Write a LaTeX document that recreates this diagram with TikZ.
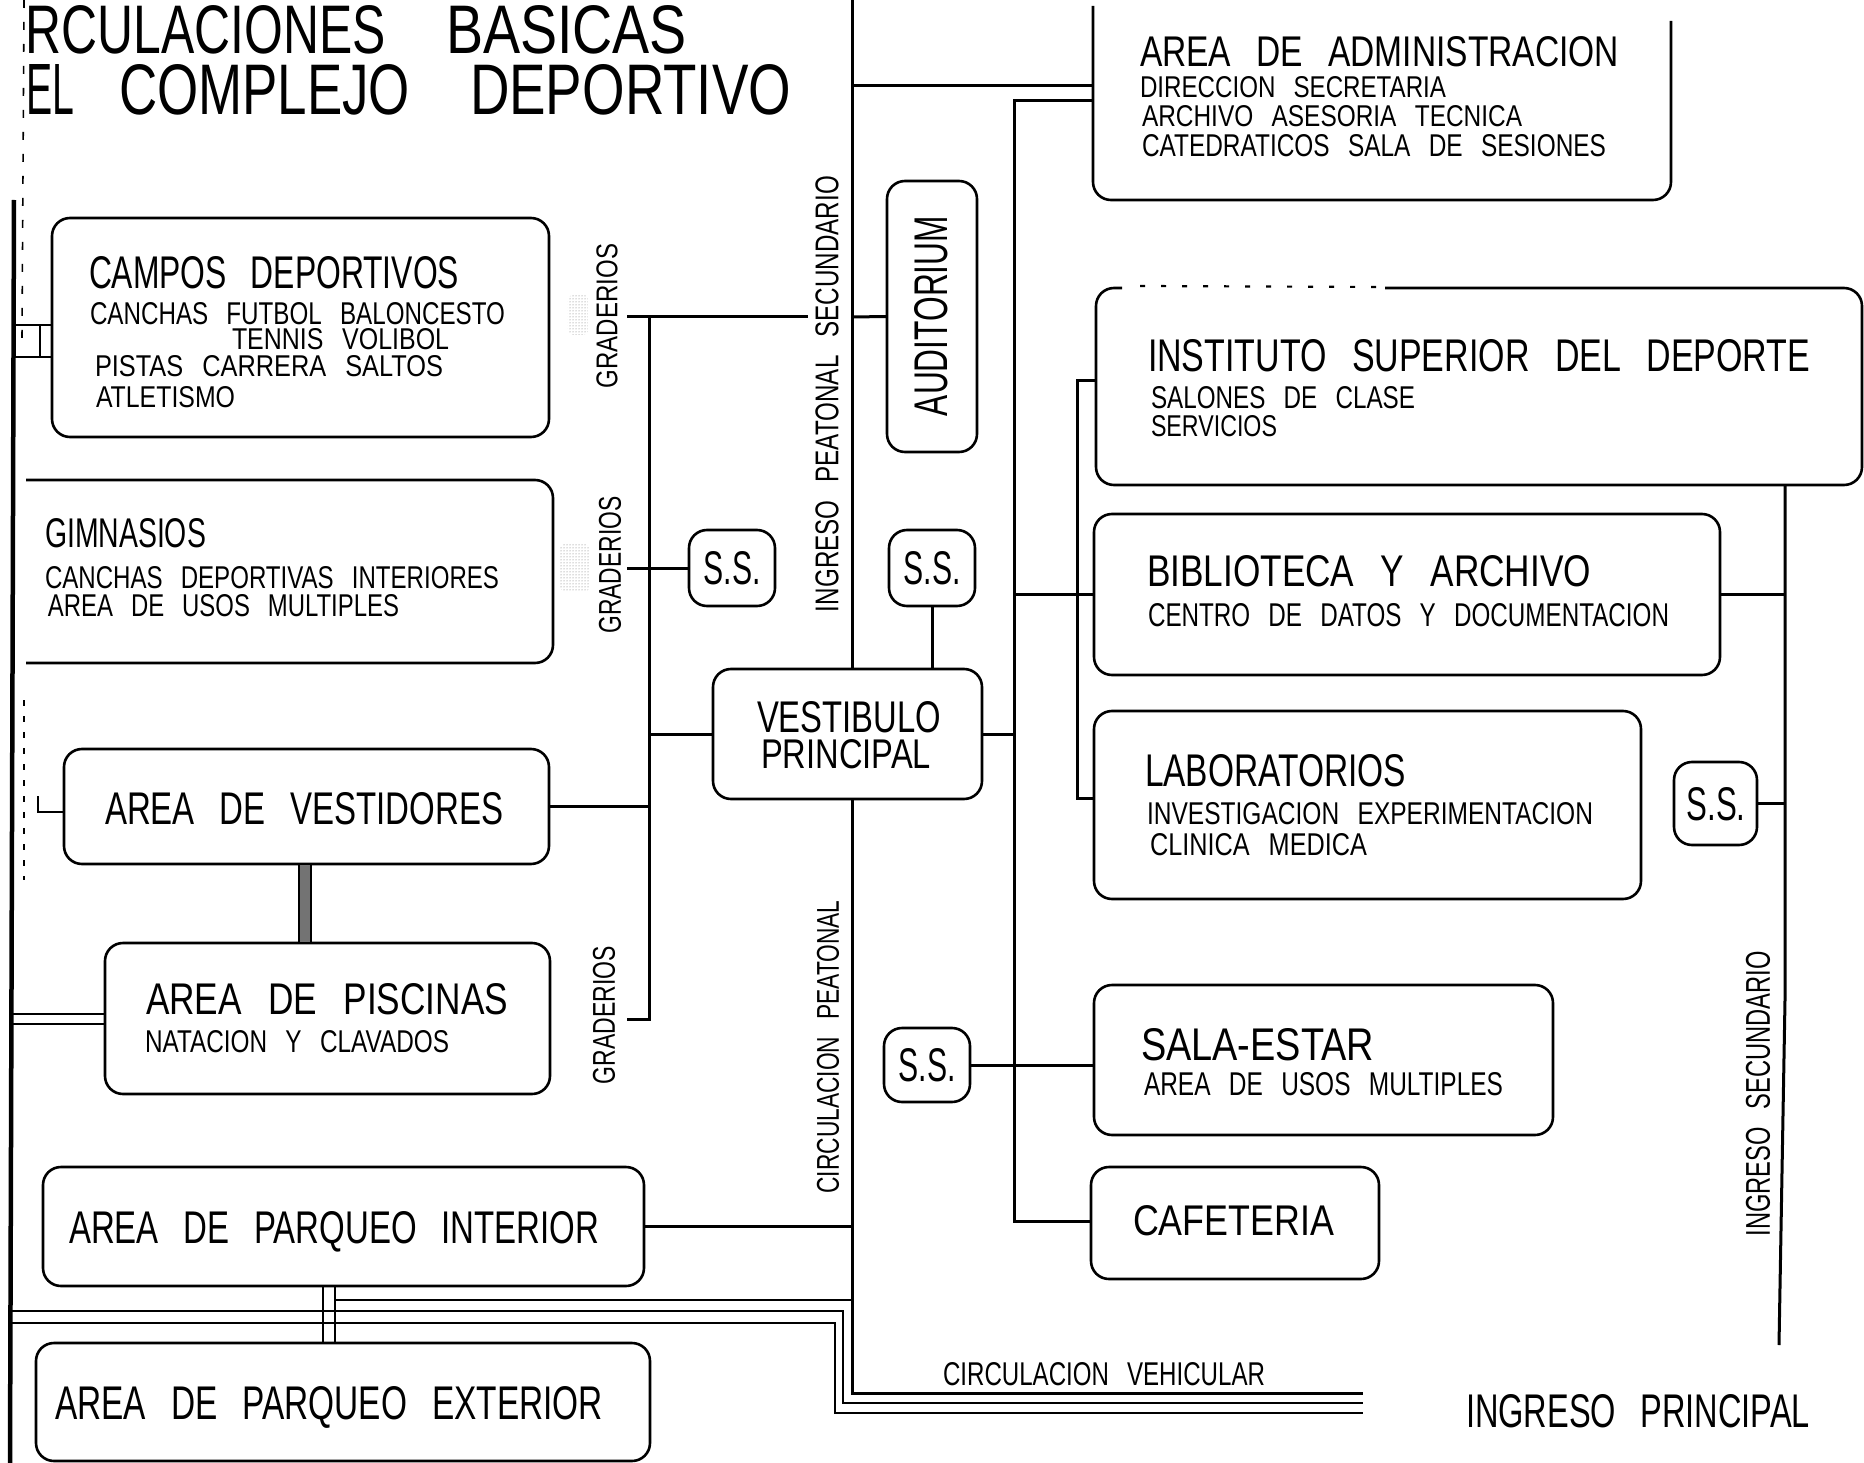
\documentclass[tikz,border=0pt]{standalone}
\usepackage{graphicx}
\usepackage{fontspec}
\setmainfont{Liberation Sans}
\usetikzlibrary{patterns,calc}
\newcommand{\ws}{\hspace{0.75em}}
\newcommand{\Htext}[6]{\node[tx,anchor=north west] (#1) at (#2,#3) {\resizebox{#4pt}{#5pt}{#6}};}
\newcommand{\Vtext}[6]{\node[tx,rotate=90] (#1) at (#2,#3) {\resizebox{#4pt}{#5pt}{#6}};}
\newcommand{\Ctext}[6]{\node[tx] (#1) at (#2,#3) {\resizebox{#4pt}{#5pt}{#6}};}
\newcommand{\boxn}[6][bx]{\node[#1, minimum width={(#5)-(#3)}, minimum height={(#6)-(#4)}] (#2) at ({((#3)+(#5))/2},{((#4)+(#6))/2}) {};}
\tikzset{
  bx/.style={draw, line width=2.6pt, rounded corners=18pt, inner sep=0pt, outer sep=0pt},
  bxo/.style={inner sep=0pt, outer sep=0pt},
  bxl/.style={line width=2.6pt, rounded corners=18pt},
  tx/.style={inner sep=0pt, outer sep=0pt},
  ln/.style={line width=3pt},
  ln2/.style={line width=2.8pt},
}
\begin{document}
\begin{tikzpicture}[x=1pt,y=-1pt]
\fill[white] (0,0) rectangle (1864,1463);
\useasboundingbox (0,0) rectangle (1864,1463);

% ---------- boxes ----------
\boxn{camp}{52}{218}{549}{437}
\boxn[bxo]{gim}{26}{480}{553}{663}
\draw[bxl] (gim.north west) -- (gim.north east) -- (gim.south east) -- (gim.south west);
\boxn{vestr}{64}{749}{549}{864}
\boxn{pisc}{105}{943}{550}{1094}
\boxn{parqint}{43}{1167}{644}{1286}
\boxn{parqext}{36}{1343}{650}{1461}
\boxn{vest}{713}{669}{982}{799}
\boxn{ss1}{689}{530}{775}{606}
\boxn{ss2}{889}{530}{975}{606}
\boxn{aud}{887}{181}{977}{452}
\boxn{ss3}{884}{1028}{970}{1102}
\boxn[bxo]{adm}{1093}{6}{1671}{200}
\draw[bxl] (adm.north west) -- (adm.south west) -- (adm.south east) -- ($(adm.north east)+(0,15)$);
\boxn[bxo]{inst}{1096}{288}{1862}{485}
\draw[bxl] (1385,288) -- (inst.north east) -- (inst.south east) -- (inst.south west) -- (inst.north west) -- (1122,288);
\draw[line width=2.2pt, dash pattern=on 5pt off 16pt] (1140,286) -- (1385,287);
\boxn{bib}{1094}{514}{1720}{675}
\boxn{lab}{1094}{711}{1641}{899}
\boxn{ss4}{1674}{762}{1757}{845}
\boxn{sala}{1094}{985}{1553}{1135}
\boxn{caf}{1091}{1167}{1379}{1279}

% ---------- texts ----------
\Htext{t1}{26}{5}{360}{48}{RCULACIONES}
\Htext{t2}{446}{5}{241}{48}{BASICAS}
\Htext{t3}{26}{64}{48}{50}{EL}
\Htext{t4}{119}{64}{291}{50}{COMPLEJO}
\Htext{t5}{470}{64}{321}{50}{DEPORTIVO}

\Htext{c1}{89}{256}{370}{32}{CAMPOS\ws DEPORTIVOS}
\Htext{c2}{90}{302}{415}{22}{CANCHAS\ws FUTBOL\ws BALONCESTO}
\Htext{c3}{232}{329}{217}{21}{TENNIS\ws VOLIBOL}
\Htext{c4}{95}{356}{348}{21}{PISTAS\ws CARRERA\ws SALTOS}
\Htext{c5}{96}{386}{139}{21}{ATLETISMO}

\Htext{g1}{45}{518}{161}{29}{GIMNASIOS}
\Htext{g2}{45}{566}{454}{22}{CANCHAS\ws DEPORTIVAS\ws INTERIORES}
\Htext{g3}{48}{594}{351}{22}{AREA\ws DE\ws USOS\ws MULTIPLES}

\Htext{v1}{105}{792}{398}{32}{AREA\ws DE\ws VESTIDORES}
\Htext{p1}{146}{983}{362}{31}{AREA\ws DE\ws PISCINAS}
\Htext{p2}{145}{1030}{304}{22}{NATACION\ws Y\ws CLAVADOS}
\Htext{q1}{69}{1211}{530}{32}{AREA\ws DE\ws PARQUEO\ws INTERIOR}
\Htext{q2}{55}{1386}{548}{33}{AREA\ws DE\ws PARQUEO\ws EXTERIOR}

\Htext{vb1}{757}{701}{184}{31}{VESTIBULO}
\Htext{vb2}{761}{739}{170}{29}{PRINCIPAL}

\Ctext{ss1t}{732}{568}{57}{33}{S.S.}
\Ctext{ss2t}{932}{568}{57}{33}{S.S.}
\Ctext{ss3t}{927}{1065}{57}{33}{S.S.}
\Ctext{ss4t}{1716}{804}{59}{33}{S.S.}

\Htext{a1}{1140}{37}{479}{30}{AREA\ws DE\ws ADMINISTRACION}
\Htext{a2}{1140}{77}{306}{21}{DIRECCION\ws SECRETARIA}
\Htext{a3}{1142}{106}{380}{21}{ARCHIVO\ws ASESORIA\ws TECNICA}
\Htext{a4}{1142}{135}{464}{22}{CATEDRATICOS\ws SALA\ws DE\ws SESIONES}

\Htext{i1}{1148}{339}{662}{32}{INSTITUTO\ws SUPERIOR\ws DEL\ws DEPORTE}
\Htext{i2}{1151}{386}{264}{22}{SALONES\ws DE\ws CLASE}
\Htext{i3}{1151}{415}{126}{21}{SERVICIOS}

\Htext{b1}{1147}{555}{444}{31}{BIBLIOTECA\ws Y\ws ARCHIVO}
\Htext{b2}{1148}{603}{521}{23}{CENTRO\ws DE\ws DATOS\ws Y\ws DOCUMENTACION}

\Htext{l1}{1145}{754}{261}{32}{LABORATORIOS}
\Htext{l2}{1147}{802}{446}{22}{INVESTIGACION\ws EXPERIMENTACION}
\Htext{l3}{1150}{833}{217}{22}{CLINICA\ws MEDICA}

\Htext{s1}{1141}{1028}{233}{32}{SALA-ESTAR}
\Htext{s2}{1144}{1072}{359}{23}{AREA\ws DE\ws USOS\ws MULTIPLES}

\Htext{f1}{1133}{1205}{201}{30}{CAFETERIA}

\Htext{cv}{943}{1362}{322}{23}{CIRCULACION\ws VEHICULAR}
\Htext{ip}{1466}{1394}{344}{33}{INGRESO\ws PRINCIPAL}

\Vtext{au}{931}{316}{200}{33}{AUDITORIUM}
\Vtext{gr1}{607}{316}{144}{21}{GRADERIOS}
\Vtext{gr2}{610}{565}{137}{22}{GRADERIOS}
\Vtext{gr3}{604}{1015}{138}{22}{GRADERIOS}
\Vtext{ips}{827}{394}{436}{23}{INGRESO\ws PEATONAL\ws SECUNDARIO}
\Vtext{cp}{828}{1047}{293}{22}{CIRCULACION\ws PEATONAL}
\Vtext{is}{1758}{1094}{285}{24}{INGRESO\ws SECUNDARIO}

% ---------- coordinates ----------
\coordinate (Ptop) at (852,0);
\coordinate (Pturn) at (852,1393);
\coordinate (Pend) at (1363,1393);
\coordinate (Padm) at (852,86);
\coordinate (Paud) at (852,317);
\coordinate (R1top) at (1014,101);
\coordinate (R1bot) at (1014,1221);
\coordinate (R2top) at (1077,380);
\coordinate (R2bot) at (1077,798);
\coordinate (Ltop) at (649,317);
\coordinate (Lbot) at (649,1019);
\coordinate (G1) at (627,317);
\coordinate (G1e) at (808,317);
\coordinate (G2) at (627,568);
\coordinate (G3) at (627,1019);
\coordinate (Rtop) at (1785,485);
\coordinate (Rmid) at (1785,1000);
\coordinate (Rbot) at (1779,1345);
\coordinate (D1) at (323,1300);
\coordinate (D2) at (335,1300);

% ---------- connectors ----------
\draw[ln] (Ptop) -- (Ptop |- vest.north);
\draw[ln] (Ptop |- vest.south) -- (Pturn) -- (Pend);
\draw[ln] (Padm) -- (Padm -| adm.west);
\draw[ln] (Paud) -- (aud.west);
\draw[ln] (R1top -| adm.west) -- (R1top) -- (R1bot) -- (R1bot -| caf.west);
\draw[ln] (R1top |- bib.west) -- (bib.west);
\draw[ln] (vest.east) -- (vest.east -| R1top);
\draw[ln] (ss3.east) -- (ss3.east -| sala.west);
\draw[ln] (ss2.south) -- (ss2.south |- vest.north);
\draw[ln] (R2top -| inst.west) -- (R2top) -- (R2bot) -- (R2bot -| lab.west);

\draw[ln] (G1) -- (G1e);
\draw[ln] (Ltop) -- (Lbot) -- (G3);
\draw[ln] (G2) -- (ss1.west);
\draw[ln] (vestr.east) -- (vestr.east -| Ltop);
\draw[ln] (Ltop |- vest.west) -- (vest.west);
\draw[ln] (parqint.east) -- (parqint.east -| Ptop);

\draw[ln] (Rtop) -- (Rmid) -- (Rbot);
\draw[ln] (bib.east) -- (bib.east -| Rtop);
\draw[ln] (ss4.east) -- (ss4.east -| Rtop);

% vehicular circulation
\draw[ln2] (12,1311) -- (843,1311) -- (843,1403) -- (1363,1403);
\draw[ln2] (12,1323) -- (835,1323) -- (835,1413) -- (1363,1413);
\draw[ln2] (D2) -- (Ptop |- D2);
\draw[ln2] (parqint.south -| D1) -- (parqext.north -| D1);
\draw[ln2] (parqint.south -| D2) -- (parqext.north -| D2);

% left edge
\draw[line width=4.5pt] (14,200) -- (10,1463);
\draw[line width=1.6pt, dash pattern=on 8pt off 14pt] (24,0) -- (22,340);
\draw[line width=1.6pt, dash pattern=on 6pt off 10pt] (24,700) -- (24,880);
\coordinate (CS1) at (12,325);
\coordinate (CS2) at (12,357);
\draw[ln2] (CS1) -- (CS1 -| camp.west);
\draw[ln2] (CS2) -- (CS2 -| camp.west);
\draw[ln2] (40,325) -- (40,357);
\coordinate (PS1) at (12,1014);
\coordinate (PS2) at (12,1024);
\draw[ln2] (PS1) -- (PS1 -| pisc.west);
\draw[ln2] (PS2) -- (PS2 -| pisc.west);
\coordinate (VS) at (38,812);
\draw[line width=2pt] (38,796) -- (VS) -- (VS -| vestr.west);

% connector vestidores - piscinas
\node[draw, line width=2pt, fill=black!55, minimum width=12, minimum height=79, inner sep=0pt] (hatch) at (304.5,903.5) {};

% stippled patches by graderios
\node[pattern=dots, pattern color=black!55, minimum width=21, minimum height=40, inner sep=0pt, rounded corners=6pt] (sm1) at (578,315) {};
\node[pattern=dots, pattern color=black!55, minimum width=30, minimum height=48, inner sep=0pt, rounded corners=6pt] (sm2) at (575,568) {};
\end{tikzpicture}
\end{document}
